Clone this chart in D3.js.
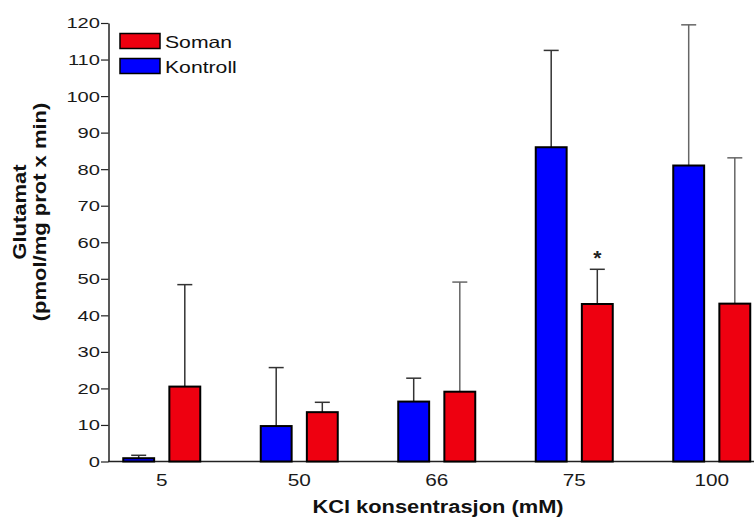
<!DOCTYPE html>
<html>
<head>
<meta charset="utf-8">
<script src="https://cdn.jsdelivr.net/npm/d3@7"></script>
<style>
  body { margin: 0; background: #fff; }
  text { font-family: "Liberation Sans", Arial, sans-serif; }
</style>
</head>
<body>
<div id="chart"></div>
<script>
// data
var categories = ["5", "50", "66", "75", "100"];
var series = ["Kontroll", "Soman"];
var kontroll = [0.9, 9.7, 16.4, 86, 81];
var kontrollErr = [0.8, 16, 6.4, 26.5, 38.5];
var soman = [20.5, 13.5, 19.1, 43.1, 43.2];
var somanErr = [27.9, 2.7, 30, 9.5, 39.9];
var significant = ["75"]; // soman bars marked with *
var yTicks = [0, 10, 20, 30, 40, 50, 60, 70, 80, 90, 100, 110, 120];

var colors = { Kontroll: "#0000ff", Soman: "#ee0010" };
var sx = 1.3; // text in the figure is stretched sideways

const W = 754, H = 518;
var svg = d3.select("#chart").append("svg")
  .attr("width", W)
  .attr("height", H);

// x scales
var x = d3.scaleBand()
  .domain(categories)
  .range([93, 780.5])
  .padding(0);
var half = x.bandwidth() / 2;
var x1 = d3.scaleBand()
  .domain(series)
  .range([half - 38.5, half + 38.5])
  .paddingInner(0.33);

// y scale
var y = d3.scaleLinear()
  .domain([0, 120])
  .range([461.5, 23]);

// y axis
var yAxis = svg.append("g")
  .attr("transform", "translate(108.5,0)")
  .call(d3.axisLeft(y).tickValues(yTicks).tickSize(7.5).tickSizeOuter(0));
yAxis.select(".domain").attr("stroke", "#222").attr("stroke-width", 1.5);
yAxis.selectAll(".tick line").attr("stroke", "#222").attr("stroke-width", 1.2);
yAxis.selectAll(".tick text")
  .attr("x", -8.5 / sx)
  .attr("transform", "scale(" + sx + ",1)")
  .style("font-size", "15.5px")
  .style("fill", "#1a1a1a");

// x axis
var xAxis = svg.append("g")
  .attr("transform", "translate(0,461.5)")
  .call(d3.axisBottom(x).tickSize(0).tickSizeOuter(0));
xAxis.select(".domain").attr("d", "M108,0H754").attr("stroke", "#222").attr("stroke-width", 1.5);
xAxis.selectAll(".tick text")
  .attr("y", 13)
  .attr("transform", "scale(" + sx + ",1)")
  .style("font-size", "16px")
  .style("fill", "#1a1a1a");

// build rows
var rows = [];
categories.forEach(function(c, i) {
  rows.push({ cat: c, s: "Kontroll", v: kontroll[i], e: kontrollErr[i] });
  rows.push({ cat: c, s: "Soman", v: soman[i], e: somanErr[i] });
});

function cx(d) { return x(d.cat) + x1(d.s) + x1.bandwidth() / 2; }

// error bars (upper only)
var err = svg.append("g").selectAll("g")
  .data(rows)
  .enter().append("g");
err.append("line")
  .attr("x1", cx).attr("x2", cx)
  .attr("y1", function(d) { return y(d.v); })
  .attr("y2", function(d) { return y(d.v + d.e); })
  .attr("stroke", function(d) { return d.e > 29 ? "#666" : "#333"; })
  .attr("stroke-width", 1.5);
err.append("line")
  .attr("x1", function(d) { return cx(d) - 7.5; })
  .attr("x2", function(d) { return cx(d) + 7.5; })
  .attr("y1", function(d) { return y(d.v + d.e); })
  .attr("y2", function(d) { return y(d.v + d.e); })
  .attr("stroke", function(d) { return d.e > 29 ? "#666" : "#333"; })
  .attr("stroke-width", 1.5);

// bars
svg.append("g").selectAll("rect")
  .data(rows)
  .enter().append("rect")
  .attr("x", function(d) { return x(d.cat) + x1(d.s); })
  .attr("y", function(d) { return y(d.v); })
  .attr("width", x1.bandwidth())
  .attr("height", function(d) { return y(0) - y(d.v); })
  .attr("fill", function(d) { return colors[d.s]; })
  .attr("stroke", "#000")
  .attr("stroke-width", 2);

// significance marks
svg.append("g").selectAll("text")
  .data(rows.filter(function(d) { return d.s === "Soman" && significant.indexOf(d.cat) >= 0; }))
  .enter().append("text")
  .attr("x", cx)
  .attr("y", function(d) { return y(d.v + d.e) - 4; })
  .attr("text-anchor", "middle")
  .style("font-size", "21px")
  .style("font-weight", "bold")
  .style("fill", "#222")
  .text("*");

// legend
var legendItems = ["Soman", "Kontroll"];
var lg = svg.append("g").selectAll("g")
  .data(legendItems)
  .enter().append("g")
  .attr("transform", function(d, i) { return "translate(120," + (33.5 + i * 25) + ")"; });
lg.append("rect")
  .attr("width", 40).attr("height", 15)
  .attr("fill", function(d) { return colors[d]; })
  .attr("stroke", "#000")
  .attr("stroke-width", 1.5);
lg.append("text")
  .attr("x", 45 / sx)
  .attr("y", 15)
  .attr("transform", "scale(" + sx + ",1)")
  .style("font-size", "16.3px")
  .style("fill", "#111")
  .text(function(d) { return d; });

// axis titles
svg.append("text")
  .attr("x", 438 / 1.15)
  .attr("y", 513)
  .attr("transform", "scale(1.15,1)")
  .attr("text-anchor", "middle")
  .style("font-size", "19px")
  .style("font-weight", "bold")
  .style("fill", "#111")
  .text("KCl konsentrasjon (mM)");

var yt = svg.append("text")
  .attr("transform", "translate(0,212) rotate(-90) scale(1,0.85)")
  .attr("text-anchor", "middle")
  .style("font-size", "22px")
  .style("font-weight", "bold")
  .style("fill", "#111");
yt.append("tspan").attr("x", 0).attr("y", 31).text("Glutamat");
yt.append("tspan").attr("x", 0).attr("y", 54.5).text("(pmol/mg prot x min)");
</script>
</body>
</html>
